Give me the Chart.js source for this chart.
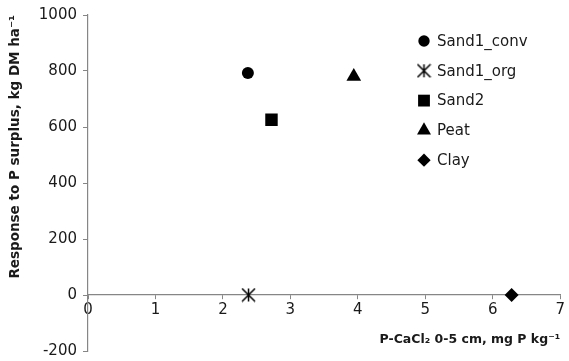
<!DOCTYPE html>
<html>
<head>
<meta charset="utf-8">
<script src="https://cdn.jsdelivr.net/npm/chart.js@4.4.0/dist/chart.umd.min.js"></script>
<style>
  html, body { margin: 0; padding: 0; background: #fff; }
  #wrap { width: 569px; height: 361px; }
</style>
</head>
<body>
<div id="wrap"><canvas id="chart"></canvas></div>
<script>
// data
const seriesNames = ['Sand1_conv', 'Sand1_org', 'Sand2', 'Peat', 'Clay'];
const pCaCl2 = [2.37, 2.38, 2.72, 3.94, 6.28];     // mg P kg-1
const response = [793, 0, 626, 780, 0];            // kg DM ha-1
const xRange = [0, 7];
const yRange = [-200, 1000];

const AXIS = '#868686';
const TEXT = '#1a1a1a';
const FONT = '"DejaVu Sans", sans-serif';

// six-armed asterisk marker (Excel style)
function asterisk(size) {
  const cv = document.createElement('canvas');
  cv.width = cv.height = size;
  const g = cv.getContext('2d');
  const m = size / 2, r = size / 2 - 1;
  g.strokeStyle = '#000'; g.lineWidth = 1.5;
  g.beginPath();
  g.moveTo(m, m - r); g.lineTo(m, m + r);
  g.moveTo(m - r, m - r); g.lineTo(m + r, m + r);
  g.moveTo(m + r, m - r); g.lineTo(m - r, m + r);
  g.stroke();
  return cv;
}

const markers = [
  { style: 'circle', r: 6 },
  { style: asterisk(15), r: 7 },
  { style: 'rect', r: 8.8 },
  { style: 'triangle', r: 8.5 },
  { style: 'rectRot', r: 7 }
];

const datasets = seriesNames.map((name, i) => ({
  label: name,
  data: [{ x: pCaCl2[i], y: response[i] }],
  pointStyle: markers[i].style,
  pointRadius: markers[i].r,
  pointHoverRadius: markers[i].r,
  backgroundColor: '#000',
  borderColor: '#000',
  borderWidth: 0
}));

// legend drawn inside the plot area, top right
const insideLegend = {
  id: 'insideLegend',
  afterDraw(chart) {
    const ctx = chart.ctx;
    ctx.save();
    ctx.font = '15px ' + FONT;
    ctx.textBaseline = 'middle';
    chart.data.datasets.forEach((ds, i) => {
      const y = 41 + i * 29.8;
      ctx.fillStyle = '#000';
      Chart.helpers.drawPoint(ctx, {
        pointStyle: ds.pointStyle, radius: ds.pointRadius * 0.95, rotation: 0, borderWidth: 0
      }, 424, y);
      ctx.fillStyle = TEXT;
      ctx.fillText(ds.label, 437, y + 1);
    });
    ctx.restore();
  }
};

new Chart(document.getElementById('chart'), {
  type: 'scatter',
  data: { datasets },
  plugins: [insideLegend],
  options: {
    responsive: true,
    maintainAspectRatio: false,
    animation: false,
    layout: { padding: { top: 15, right: 4, bottom: 10, left: 0 } },
    plugins: { legend: { display: false }, tooltip: { enabled: false } },
    scales: {
      x: {
        type: 'linear',
        position: { y: 0 },
        min: xRange[0], max: xRange[1],
        ticks: { stepSize: 1, padding: 2, color: TEXT, font: { family: FONT, size: 15 } },
        grid: { drawOnChartArea: false, drawTicks: true, tickLength: 4, color: AXIS },
        border: { color: AXIS, width: 1.2 },
        title: {
          display: true, align: 'end', color: TEXT,
          text: 'P-CaCl\u2082 0-5 cm, mg P kg\u207B\u00B9',
          font: { family: FONT, size: 12.5, weight: 'bold' },
          padding: { top: 11, bottom: 0 }
        }
      },
      y: {
        min: yRange[0], max: yRange[1],
        afterFit(s) { s.width = 88; s.paddingTop = 0; s.paddingBottom = 0; },
        ticks: { stepSize: 200, padding: 6, color: TEXT, font: { family: FONT, size: 15 }, callback: v => String(v) },
        grid: { drawOnChartArea: false, drawTicks: true, tickLength: 5, color: AXIS },
        border: { color: AXIS, width: 1.2 },
        title: {
          display: true, align: 'end', color: TEXT,
          text: 'Response to P surplus, kg DM ha\u207B\u00B9',
          font: { family: FONT, size: 13.5, weight: 'bold' },
          padding: { top: 7, bottom: 0 }
        }
      }
    }
  }
});
</script>
</body>
</html>
